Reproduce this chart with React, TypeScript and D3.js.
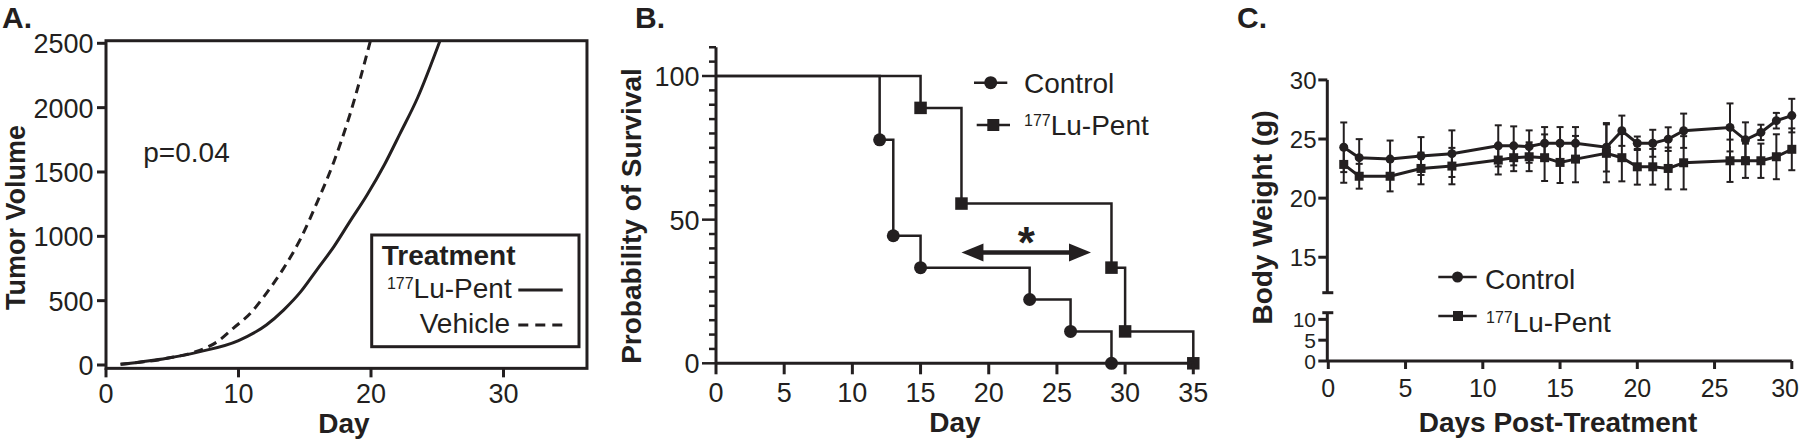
import React from 'react'
import * as d3 from 'd3'

const INK = '#231f20'
const FONT = '"Liberation Sans", Arial, Helvetica, sans-serif'

// ---- Panel A: tumour volume growth fits
const lupentDays = [1.1, 4.6, 7.1, 10, 12.1, 13.4, 14.7, 15.9, 17.2, 18.4, 19.7, 21, 22.2, 23.5, 25.2]
const lupentVolume = [5, 52, 104, 190, 311, 427, 570, 738, 920, 1114, 1321, 1554, 1800, 2073, 2518]
const vehicleDays = [1.1, 4.6, 6.6, 8.4, 9.6, 10.9, 12.1, 13.4, 14.7, 15.9, 17.2, 18.4, 19.95]
const vehicleVolume = [5, 52, 98, 181, 285, 402, 557, 751, 984, 1256, 1580, 1943, 2518]
const volumeTicks = [0, 500, 1000, 1500, 2000, 2500]
const dayTicksA = [0, 10, 20, 30]

// ---- Panel B: Kaplan-Meier survival
const controlEventDays = [0, 12, 13, 15, 23, 26, 29]
const controlSurvival = [100, 77.8, 44.4, 33.3, 22.2, 11.1, 0]
const lupentEventDays = [0, 15, 18, 29, 30, 35]
const lupentSurvival = [100, 88.9, 55.6, 33.3, 11.1, 0]
const survivalTicks = [0, 50, 100]
const survivalMinorTicks = d3.range(0, 111, 5)
const dayTicksB = [0, 5, 10, 15, 20, 25, 30, 35]
const sigArrowDays = [18, 27.5]
const sigArrowLevel = 38.6

// ---- Panel C: body weight
const weightDays = [1, 2, 4, 6, 8, 11, 12, 13, 14, 15, 16, 18, 19, 20, 21, 22, 23, 26, 27, 28, 29, 30]
const controlWeight = [24.3, 23.42, 23.3, 23.56, 23.76, 24.42, 24.42, 24.36, 24.64, 24.64, 24.64, 24.3, 25.7, 24.64, 24.64, 24.99, 25.7, 25.98, 24.93, 25.56, 26.55, 26.98]
const controlSd = [2.1, 1.57, 1.57, 1.6, 1.97, 1.74, 1.65, 1.37, 1.37, 1.37, 1.37, 2.05, 1.28, 0.57, 1.14, 1.0, 1.45, 2.03, 1.48, 0.65, 0.66, 1.42]
const lupentWeight = [22.85, 21.85, 21.85, 22.51, 22.71, 23.22, 23.42, 23.5, 23.42, 23.02, 23.3, 23.79, 23.42, 22.65, 22.65, 22.51, 22.99, 23.16, 23.16, 23.16, 23.5, 24.13]
const lupentSd = [1.55, 1.05, 1.28, 1.34, 1.54, 1.22, 1.14, 1.22, 1.97, 1.74, 1.96, 2.45, 2.0, 1.51, 1.51, 1.77, 2.25, 1.79, 1.45, 1.45, 1.9, 1.77]
const weightTicksUpper = [15, 20, 25, 30]
const weightTicksLower = [0, 5, 10]
const dayTicksC = [0, 5, 10, 15, 20, 25, 30]

function LuPent({ x, y, anchor = 'start', size = 28 }) {
  return (
    <text x={x} y={y} textAnchor={anchor} fontSize={size} fill={INK}>
      <tspan fontSize={16} dy={-9}>177</tspan>
      <tspan dy={9}>Lu-Pent</tspan>
    </text>
  )
}

function PanelA() {
  const x = d3.scaleLinear().domain([0, 30]).range([106, 503.5])
  const y = d3.scaleLinear().domain([0, 2500]).range([365, 43.3])
  const left = x(0), right = x(36.3), top = y(2520), bottom = y(-26)
  const line = d3.line<number>().curve(d3.curveMonotoneX)
  const solid = line(lupentDays.map((d, i) => [x(d), y(lupentVolume[i])]) as any)
  const dashed = line(vehicleDays.map((d, i) => [x(d), y(vehicleVolume[i])]) as any)

  return (
    <g>
      <text x={2} y={28} fontSize={30} fontWeight="bold" fill={INK}>A.</text>
      <defs>
        <clipPath id="clipA">
          <rect x={left} y={top} width={right - left} height={bottom - top} />
        </clipPath>
      </defs>
      <g clipPath="url(#clipA)">
        <path d={solid!} fill="none" stroke={INK} strokeWidth={3} />
        <path d={dashed!} fill="none" stroke={INK} strokeWidth={3} strokeDasharray="9,6" />
      </g>
      <rect x={left} y={top} width={right - left} height={bottom - top} fill="none" stroke={INK} strokeWidth={3} />
      {volumeTicks.map((t) => (
        <g key={t}>
          <line x1={left - 9} x2={left} y1={y(t)} y2={y(t)} stroke={INK} strokeWidth={3} />
          <text x={93.5} y={y(t) + 10} textAnchor="end" fontSize={27} fill={INK}>{t}</text>
        </g>
      ))}
      {dayTicksA.map((t) => (
        <g key={t}>
          <line x1={x(t)} x2={x(t)} y1={bottom} y2={bottom + 9} stroke={INK} strokeWidth={3} />
          <text x={x(t)} y={403} textAnchor="middle" fontSize={27} fill={INK}>{t}</text>
        </g>
      ))}
      <text x={344} y={433} textAnchor="middle" fontSize={28} fontWeight="bold" fill={INK}>Day</text>
      <text transform="translate(25,217.5) rotate(-90)" textAnchor="middle" fontSize={27} fontWeight="bold" fill={INK}>Tumor Volume</text>
      <text x={143.3} y={162} fontSize={28} fill={INK}>p=0.04</text>

      <rect x={371.7} y={235} width={207.3} height={111.7} fill="#fff" stroke={INK} strokeWidth={3} />
      <text x={381.7} y={265} fontSize={28} fontWeight="bold" fill={INK}>Treatment</text>
      <LuPent x={511.7} y={298} anchor="end" />
      <text x={510} y={333} textAnchor="end" fontSize={28} fill={INK}>Vehicle</text>
      <line x1={518.3} x2={562.7} y1={290} y2={290} stroke={INK} strokeWidth={3} />
      <line x1={518.3} x2={562.7} y1={325} y2={325} stroke={INK} strokeWidth={3} strokeDasharray="10,7" />
    </g>
  )
}

function Circle({ cx, cy, r }) {
  return <circle cx={cx} cy={cy} r={r} fill={INK} />
}
function Square({ cx, cy, s }) {
  return <rect x={cx - s / 2} y={cy - s / 2} width={s} height={s} fill={INK} />
}

function PanelB() {
  const x = d3.scaleLinear().domain([0, 35]).range([716, 1193.3])
  const y = d3.scaleLinear().domain([0, 100]).range([363.3, 76])
  const step = d3.line<number>().curve(d3.curveStepAfter)
  const ctrl = step(controlEventDays.map((d, i) => [x(d), y(controlSurvival[i])]) as any)
  const lu = step(lupentEventDays.map((d, i) => [x(d), y(lupentSurvival[i])]) as any)
  const ax1 = x(sigArrowDays[0]), ax2 = x(sigArrowDays[1]), ay = y(sigArrowLevel)
  const head = 22, hh = 9

  return (
    <g>
      <text x={635} y={28} fontSize={30} fontWeight="bold" fill={INK}>B.</text>
      <path d={ctrl!} fill="none" stroke={INK} strokeWidth={2.5} />
      <path d={lu!} fill="none" stroke={INK} strokeWidth={2.5} />
      {controlEventDays.slice(1).map((d, i) => (
        <Circle key={d} cx={x(d)} cy={y(controlSurvival[i + 1])} r={6.5} />
      ))}
      {lupentEventDays.slice(1).map((d, i) => (
        <Square key={d} cx={x(d)} cy={y(lupentSurvival[i + 1])} s={12.5} />
      ))}

      <line x1={x(0)} x2={x(0)} y1={y(110)} y2={y(0)} stroke={INK} strokeWidth={3} />
      <line x1={x(0)} x2={x(35)} y1={y(0)} y2={y(0)} stroke={INK} strokeWidth={3} />
      {survivalMinorTicks.map((t) => (
        <line key={t} x1={x(0) - (t % 50 === 0 ? 14 : 7)} x2={x(0)} y1={y(t)} y2={y(t)} stroke={INK} strokeWidth={2.5} />
      ))}
      {survivalTicks.map((t) => (
        <text key={t} x={699.5} y={y(t) + 10} textAnchor="end" fontSize={27} fill={INK}>{t}</text>
      ))}
      {dayTicksB.map((t) => (
        <g key={t}>
          <line x1={x(t)} x2={x(t)} y1={y(0)} y2={y(0) + 11} stroke={INK} strokeWidth={3} />
          <text x={x(t)} y={402} textAnchor="middle" fontSize={27} fill={INK}>{t}</text>
        </g>
      ))}
      <text x={955} y={432} textAnchor="middle" fontSize={28} fontWeight="bold" fill={INK}>Day</text>
      <text transform="translate(641,216) rotate(-90)" textAnchor="middle" fontSize={28} fontWeight="bold" fill={INK}>Probability of Survival</text>

      <line x1={ax1 + head - 2} x2={ax2 - head + 2} y1={ay} y2={ay} stroke={INK} strokeWidth={4.5} />
      <polygon points={`${ax1},${ay} ${ax1 + head},${ay - hh} ${ax1 + head},${ay + hh}`} fill={INK} />
      <polygon points={`${ax2},${ay} ${ax2 - head},${ay - hh} ${ax2 - head},${ay + hh}`} fill={INK} />
      <text x={(ax1 + ax2) / 2} y={258} textAnchor="middle" fontSize={44} fontWeight="bold" fill={INK}>*</text>

      <line x1={974} x2={1007.3} y1={82.7} y2={82.7} stroke={INK} strokeWidth={2.5} />
      <Circle cx={990.7} cy={82.7} r={6.5} />
      <text x={1024} y={92.7} fontSize={28} fill={INK}>Control</text>
      <line x1={976.7} x2={1010} y1={125} y2={125} stroke={INK} strokeWidth={2.5} />
      <Square cx={993.3} cy={125} s={12} />
      <LuPent x={1024} y={135} />
    </g>
  )
}

function PanelC() {
  const x = d3.scaleLinear().domain([0, 30]).range([1328.3, 1791.8])
  const yu = d3.scaleLinear().domain([12, 30]).range([292.7, 79.9])
  const yl = d3.scaleLinear().domain([0, 11.6]).range([361, 312.7])
  const ax = 1327.3
  const line = d3.line<number>()
  const ctrl = line(weightDays.map((d, i) => [x(d), yu(controlWeight[i])]) as any)
  const lu = line(weightDays.map((d, i) => [x(d), yu(lupentWeight[i])]) as any)

  const bars = (vals, sds, key) =>
    weightDays.map((d, i) => {
      const cx = x(d), y1 = yu(vals[i] + sds[i]), y2 = yu(vals[i] - sds[i])
      return (
        <g key={key + d}>
          <line x1={cx} x2={cx} y1={y1} y2={y2} stroke={INK} strokeWidth={2} />
          <line x1={cx - 3.5} x2={cx + 3.5} y1={y1} y2={y1} stroke={INK} strokeWidth={2} />
          <line x1={cx - 3.5} x2={cx + 3.5} y1={y2} y2={y2} stroke={INK} strokeWidth={2} />
        </g>
      )
    })

  return (
    <g>
      <text x={1237} y={28} fontSize={30} fontWeight="bold" fill={INK}>C.</text>
      {bars(controlWeight, controlSd, 'c')}
      {bars(lupentWeight, lupentSd, 'l')}
      <path d={ctrl!} fill="none" stroke={INK} strokeWidth={3} />
      <path d={lu!} fill="none" stroke={INK} strokeWidth={3} />
      {weightDays.map((d, i) => (
        <Circle key={'c' + d} cx={x(d)} cy={yu(controlWeight[i])} r={4.5} />
      ))}
      {weightDays.map((d, i) => (
        <Square key={'l' + d} cx={x(d)} cy={yu(lupentWeight[i])} s={9} />
      ))}

      <line x1={ax} x2={ax} y1={yu(30)} y2={yu(12)} stroke={INK} strokeWidth={3} />
      <line x1={ax - 5} x2={ax + 6} y1={yu(12)} y2={yu(12)} stroke={INK} strokeWidth={3} />
      <line x1={ax} x2={ax} y1={yl(11.6)} y2={yl(0)} stroke={INK} strokeWidth={3} />
      <line x1={ax - 5} x2={ax + 6} y1={yl(11.6)} y2={yl(11.6)} stroke={INK} strokeWidth={3} />
      {weightTicksUpper.map((t) => (
        <g key={t}>
          <line x1={ax - 9} x2={ax} y1={yu(t)} y2={yu(t)} stroke={INK} strokeWidth={3} />
          <text x={1316.5} y={yu(t) + 9} textAnchor="end" fontSize={24} fill={INK}>{t}</text>
        </g>
      ))}
      {weightTicksLower.map((t) => (
        <g key={t}>
          <line x1={ax - 9} x2={ax} y1={yl(t)} y2={yl(t)} stroke={INK} strokeWidth={3} />
          <text x={1316} y={yl(t) + 7.5} textAnchor="end" fontSize={21} fill={INK}>{t}</text>
        </g>
      ))}
      <line x1={ax} x2={x(30)} y1={yl(0)} y2={yl(0)} stroke={INK} strokeWidth={3} />
      {dayTicksC.map((t, i) => {
        const last = i === dayTicksC.length - 1
        return (
          <g key={t}>
            <line x1={x(t)} x2={x(t)} y1={yl(0)} y2={yl(0) + 8} stroke={INK} strokeWidth={3} />
            <text x={last ? 1799 : x(t)} y={396.5} textAnchor={last ? 'end' : 'middle'} fontSize={25} fill={INK}>{t}</text>
          </g>
        )
      })}
      <text x={1558} y={432} textAnchor="middle" fontSize={28} fontWeight="bold" fill={INK}>Days Post-Treatment</text>
      <text transform="translate(1272,217.5) rotate(-90)" textAnchor="middle" fontSize={28} fontWeight="bold" fill={INK}>Body Weight (g)</text>

      <line x1={1438.3} x2={1476.7} y1={277} y2={277} stroke={INK} strokeWidth={2.5} />
      <Circle cx={1457.5} cy={277} r={5.5} />
      <text x={1485} y={289.3} fontSize={28} fill={INK}>Control</text>
      <line x1={1438.3} x2={1476.7} y1={316} y2={316} stroke={INK} strokeWidth={2.5} />
      <Square cx={1458} cy={316} s={10} />
      <LuPent x={1486} y={331.7} />
    </g>
  )
}

export default function App() {
  return (
    <svg
      width={1800}
      height={442}
      viewBox="0 0 1800 442"
      style={{ position: 'absolute', left: 0, top: 0, background: '#fff', fontFamily: FONT }}
    >
      <rect width={1800} height={442} fill="#fff" />
      <PanelA />
      <PanelB />
      <PanelC />
    </svg>
  )
}
